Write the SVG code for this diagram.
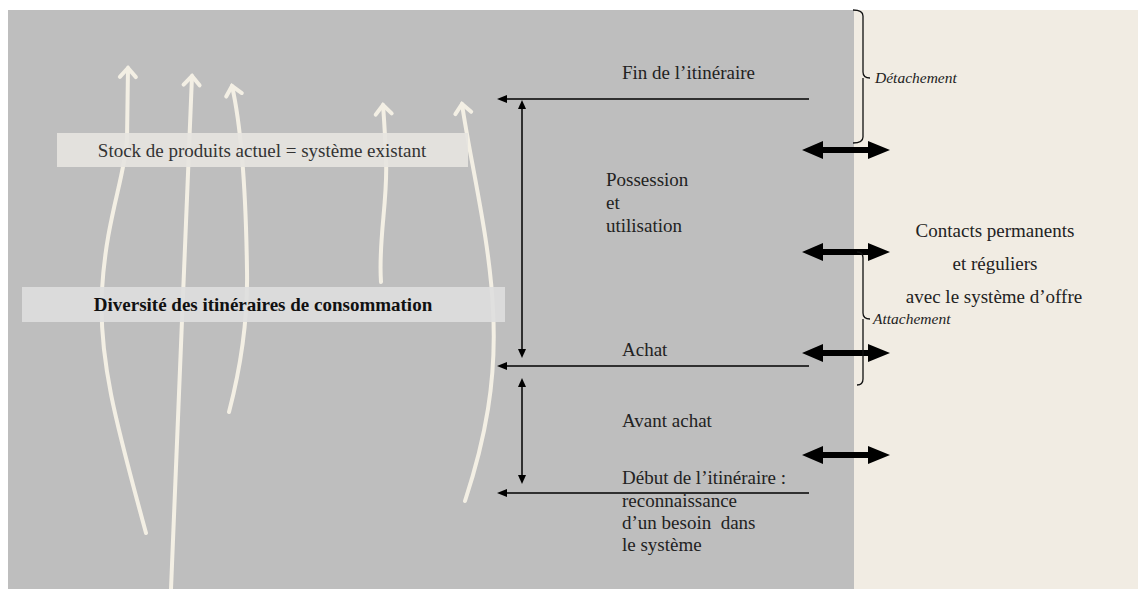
<svg xmlns="http://www.w3.org/2000/svg" width="1138" height="589" viewBox="0 0 1138 589">
<style>
.t{font-family:"Liberation Serif","Times New Roman",serif;font-size:19px;fill:#222}
.tb{font-family:"Liberation Serif","Times New Roman",serif;font-size:19px;font-weight:bold;fill:#111}
.ti{font-family:"Liberation Serif","Times New Roman",serif;font-size:15.5px;font-style:italic;fill:#222}
.cream{fill:none;stroke:#F3EFE4;stroke-width:4;stroke-linecap:round;marker-end:url(#chev)}
.thin{stroke:#000;stroke-width:1.5;fill:none}
.brace{stroke:#111;stroke-width:1.3;fill:none}
</style>
<defs>
<marker id="chev" markerUnits="userSpaceOnUse" markerWidth="30" markerHeight="30" refX="0" refY="0" viewBox="-15 -15 30 30" orient="auto" overflow="visible">
<path d="M-9,-8 L0,0 L-9,8" fill="none" stroke="#F3EFE4" stroke-width="4" stroke-linecap="round" stroke-linejoin="miter"/>
</marker>
<path id="dbl" d="M0,0 L21,-9 L21,-3 L66,-3 L66,-9 L88,0 L66,9 L66,3 L21,3 L21,9 Z" fill="#000"/>
</defs>
<rect x="0" y="0" width="1138" height="589" fill="#fff"/>
<rect id="left-panel" x="8" y="10" width="846" height="579" fill="#BEBEBE"/>
<rect id="right-panel" x="854" y="10" width="284" height="579" fill="#F1ECE3"/>

<g id="itineraries">
<path class="cream" d="M146,533 C118,430 98,360 102,290 C106,220 124,180 127,140 L128,68"/>
<path class="cream" d="M171,589 C177,420 184,250 192,76"/>
<path class="cream" d="M229,412 C240,370 248,320 247,270 C246,200 242,130 232,86"/>
<path class="cream" d="M381,282 C378,240 388,200 386,160 C385,130 384,118 383,105"/>
<path class="cream" d="M465,501 C485,440 497,380 493,310 C490,240 470,160 462,104"/>
</g>

<g id="stock">
<rect x="57" y="133" width="411" height="34" fill="#E6E4DF" fill-opacity="0.92"/>
<text class="t" x="262" y="157" text-anchor="middle" style="fill:#333">Stock de produits actuel = système existant</text>
</g>

<g id="diversite">
<rect x="22" y="287" width="483" height="35" fill="#DEDEDE" fill-opacity="0.9"/>
<text class="tb" x="263" y="311" text-anchor="middle">Diversité des itinéraires de consommation</text>
</g>

<g id="connectors">
<line class="thin" x1="809" y1="99" x2="505" y2="99"/>
<path d="M497,99 L507,95 L507,103 Z"/>
<line class="thin" x1="809" y1="366" x2="505" y2="366"/>
<path d="M497,366 L507,362 L507,370 Z"/>
<line class="thin" x1="809" y1="493" x2="505" y2="493"/>
<path d="M497,493 L507,489 L507,497 Z"/>
<line class="thin" x1="522" y1="107" x2="522" y2="350"/>
<path d="M522,100 L518,109 L526,109 Z"/>
<path d="M522,358 L518,349 L526,349 Z"/>
<line class="thin" x1="522" y1="386" x2="522" y2="476"/>
<path d="M522,378 L518,387 L526,387 Z"/>
<path d="M522,484 L518,475 L526,475 Z"/>
<use href="#dbl" x="802" y="150"/>
<use href="#dbl" x="802" y="252"/>
<use href="#dbl" x="802" y="353"/>
<use href="#dbl" x="802" y="455"/>
</g>

<g id="stages">
<text class="t" x="622" y="79">Fin de l’itinéraire</text>
<text class="t" x="606" y="186">Possession</text>
<text class="t" x="606" y="209">et</text>
<text class="t" x="606" y="232">utilisation</text>
<text class="t" x="622" y="356">Achat</text>
<text class="t" x="622" y="427">Avant achat</text>
<text class="t" x="622" y="484">Début de l’itinéraire :</text>
<text class="t" x="622" y="507">reconnaissance</text>
<text class="t" x="622" y="529" xml:space="preserve">d’un besoin  dans</text>
<text class="t" x="622" y="551">le système</text>
</g>

<g id="detachement">
<path class="brace" d="M853,10 Q863,10 863,16 V72 Q863,78 870,78 M863,78 V137 Q863,143 853,143"/>
<text class="ti" x="875" y="83">Détachement</text>
</g>

<g id="attachement">
<path class="brace" d="M857,252 Q863,252 863,258 V313 Q863,319 870,319 M863,319 V379 Q863,385 857,385"/>
<text class="ti" x="873" y="324">Attachement</text>
</g>

<g id="contacts">
<text class="t" x="995" y="237" text-anchor="middle">Contacts permanents</text>
<text class="t" x="995" y="270" text-anchor="middle">et réguliers</text>
<text class="t" x="994" y="303" text-anchor="middle">avec le système d’offre</text>
</g>
</svg>
